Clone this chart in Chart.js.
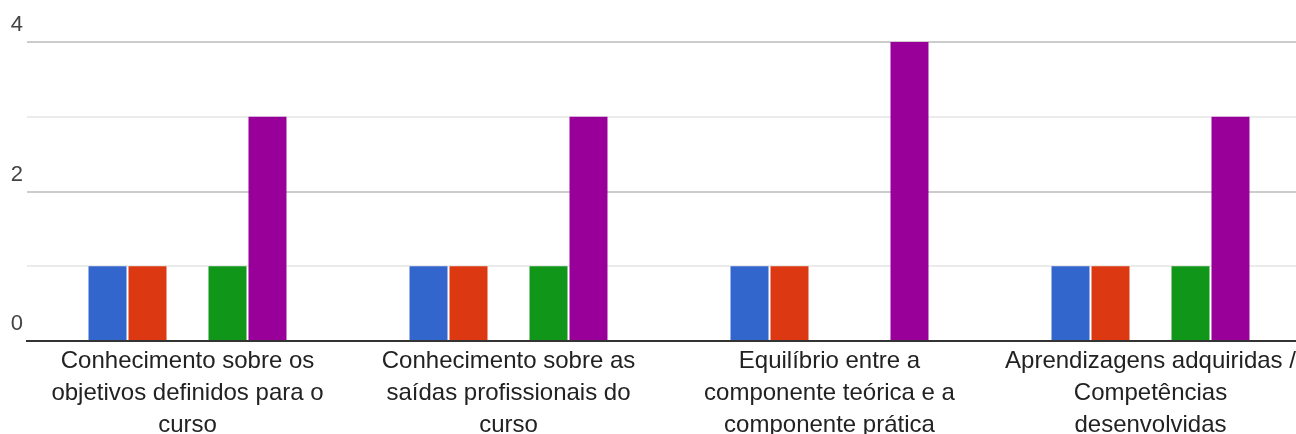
<!DOCTYPE html>
<html>
<head>
<meta charset="utf-8">
<script src="https://cdn.jsdelivr.net/npm/chart.js@4/dist/chart.umd.min.js"></script>
<style>
    html, body { margin: 0; padding: 0; background: #fff; overflow: hidden; }
    #wrap { position: relative; width: 1311px; height: 434px; }
</style>
</head>
<body>
<div id="wrap"><canvas id="bar_chart"></canvas></div>
<script>
var categories = [
    ["Conhecimento sobre os", "objetivos definidos para o", "curso"],
    ["Conhecimento sobre as", "saídas profissionais do", "curso"],
    ["Equilíbrio entre a", "componente teórica e a", "componente prática"],
    ["Aprendizagens adquiridas /", "Competências", "desenvolvidas"]
];
var seriesNames = ["1", "2", "3", "4", "5"];
var seriesColors = ["#3366cc", "#dc3912", "#ff9900", "#109618", "#990099"];
var seriesValues = [
    [1, 1, 1, 1],
    [1, 1, 1, 1],
    [0, 0, 0, 0],
    [1, 1, 0, 1],
    [3, 3, 4, 3]
];
var yTicks = [0, 2, 4];

var datasets = seriesValues.map(function (vals, i) {
    return {
        label: seriesNames[i],
        data: vals,
        backgroundColor: seriesColors[i],
        borderWidth: 0,
        categoryPercentage: 0.623,
        barPercentage: 0.95
    };
});

new Chart(document.getElementById("bar_chart").getContext("2d"), {
    type: "bar",
    data: { labels: categories, datasets: datasets },
    options: {
        responsive: true,
        maintainAspectRatio: false,
        animation: false,
        layout: { padding: { top: 42, right: 0, left: 0, bottom: 0 } },
        plugins: { legend: { display: false }, tooltip: { enabled: false } },
        scales: {
            x: {
                grid: { display: false, drawTicks: false },
                border: { color: "#333333", width: 2 },
                ticks: {
                    color: "#222222",
                    maxRotation: 0,
                    autoSkip: false,
                    padding: 4,
                    font: { family: "'Liberation Sans', Arial, sans-serif", size: 24, lineHeight: 1.333 }
                },
                afterFit: function (scale) { scale.height = 93; }
            },
            y: {
                min: 0,
                max: 4,
                border: { display: false },
                grid: {
                    drawTicks: false,
                    color: function (ctx) {
                        return yTicks.indexOf(ctx.tick.value) >= 0 ? "#cccccc" : "#ebebeb";
                    },
                    lineWidth: 2
                },
                ticks: {
                    stepSize: 1,
                    color: "#444444",
                    padding: 4,
                    labelOffset: -17,
                    font: { family: "'Liberation Sans', Arial, sans-serif", size: 22 },
                    callback: function (v) { return yTicks.indexOf(v) >= 0 ? v : ""; }
                },
                afterFit: function (scale) { scale.width = 27; }
            }
        }
    }
});
</script>
</body>
</html>
